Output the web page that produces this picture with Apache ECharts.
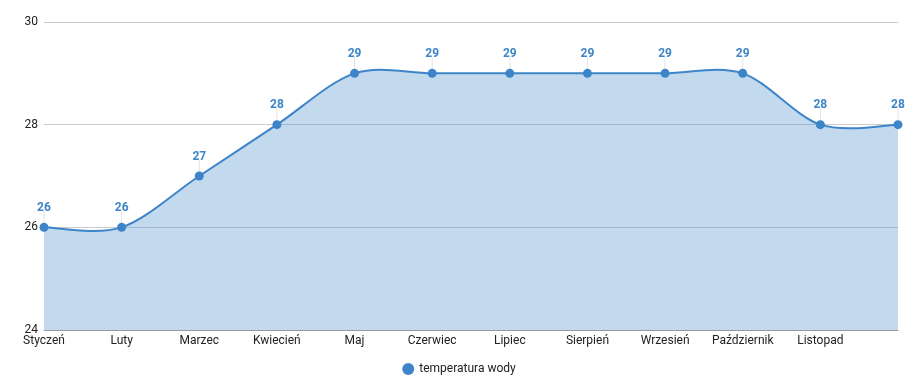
<!DOCTYPE html>
<html><head><meta charset="utf-8">
<script src="https://cdn.jsdelivr.net/npm/echarts@6/dist/echarts.min.js"></script>
<style>html,body{margin:0;padding:0;background:#fff}#c{width:918px;height:392px}</style>
</head><body><div id="c"></div>
<script>
const months = ['Styczeń','Luty','Marzec','Kwiecień','Maj','Czerwiec','Lipiec','Sierpień','Wrzesień','Październik','Listopad','Grudzień'];
const waterTemp = [26,26,27,28,29,29,29,29,29,29,28,28];
const seriesName = 'temperatura wody';
const yTicks = [24,26,28,30];

const COLOR = '#3d85c8';
const T = 0.16;

function renderCurve(params, api) {
  if (params.dataIndex !== 0) return null;
  const pts = waterTemp.map((v, i) => api.coord([i, v]));
  const base = api.coord([0, yTicks[0]])[1];
  const n = pts.length;
  let d = 'M' + pts[0][0] + ' ' + pts[0][1];
  for (let i = 0; i < n - 1; i++) {
    const p0 = pts[Math.max(i - 1, 0)], p1 = pts[i], p2 = pts[i + 1], p3 = pts[Math.min(i + 2, n - 1)];
    const c1 = [p1[0] + (p2[0] - p0[0]) * T, p1[1] + (p2[1] - p0[1]) * T];
    const c2 = [p2[0] - (p3[0] - p1[0]) * T, p2[1] - (p3[1] - p1[1]) * T];
    d += ' C' + c1[0] + ' ' + c1[1] + ' ' + c2[0] + ' ' + c2[1] + ' ' + p2[0] + ' ' + p2[1];
  }
  const area = d + ' L' + pts[n - 1][0] + ' ' + base + ' L' + pts[0][0] + ' ' + base + ' Z';
  const children = [
    {type: 'path', shape: {pathData: area}, style: {fill: COLOR, opacity: 0.31, stroke: null}, silent: true},
    {type: 'path', shape: {pathData: d}, style: {fill: null, stroke: COLOR, lineWidth: 2}, silent: true}
  ];
  pts.forEach(p => {
    children.push({type: 'line', shape: {x1: p[0], y1: p[1] - 4, x2: p[0], y2: p[1] - 16},
      style: {stroke: '#e3e3e3', lineWidth: 1}, silent: true});
  });
  return {type: 'group', children};
}

const chart = echarts.init(document.getElementById('c'));
chart.setOption({
  animation: false,
  textStyle: {fontFamily: 'Roboto'},
  color: [COLOR],
  grid: {left: 44, right: 20, top: 22, bottom: 62},
  legend: {
    bottom: 12, left: 'center', icon: 'circle', itemWidth: 12, itemHeight: 12,
    textStyle: {color: '#222', fontSize: 12, fontFamily: 'Roboto'},
    data: [seriesName]
  },
  xAxis: {
    type: 'category', data: months, boundaryGap: false,
    axisLine: {show: true, lineStyle: {color: '#999'}},
    axisTick: {show: false},
    axisLabel: {color: '#222', fontSize: 12, margin: 5, interval: 0,
      formatter: (v, i) => i === months.length - 1 ? '' : v}
  },
  yAxis: {
    type: 'value', min: yTicks[0], max: yTicks[yTicks.length-1], interval: 2,
    axisLine: {show: false}, axisTick: {show: false},
    axisLabel: {color: '#222', fontSize: 12, margin: 6},
    splitLine: {lineStyle: {color: '#ccc'}}
  },
  series: [{
    type: 'custom', name: 'curve', data: waterTemp.map((v, i) => [i, v]),
    renderItem: renderCurve, encode: {x: 0, y: 1}, z: 1, silent: true
  }, {
    name: seriesName, type: 'line', data: waterTemp,
    symbol: 'circle', symbolSize: 9, z: 3,
    lineStyle: {width: 0, opacity: 0},
    itemStyle: {color: COLOR},
    label: {show: true, position: 'top', distance: 9, color: COLOR, fontWeight: 'bold', fontSize: 12}
  }]
});
</script></body></html>
